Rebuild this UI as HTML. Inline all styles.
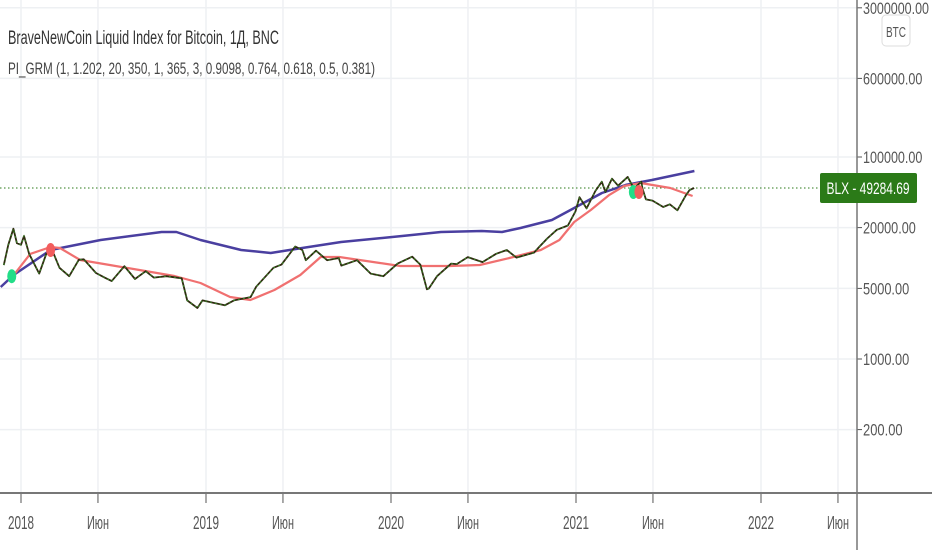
<!DOCTYPE html>
<html><head><meta charset="utf-8"><style>
html,body{margin:0;padding:0;background:#fff;width:932px;height:550px;overflow:hidden}
svg text{font-family:"Liberation Sans",sans-serif}
</style></head><body>
<svg id="chart" width="932" height="550" viewBox="0 0 932 550" xmlns="http://www.w3.org/2000/svg">
<g id="grid"></g>
<g id="series"></g>
<g id="axes"></g>
<text x="8" y="44" font-size="19" fill="#333" textLength="271" lengthAdjust="spacingAndGlyphs">BraveNewCoin Liquid Index for Bitcoin, 1Д, BNC</text>
<text x="8" y="74" font-size="17" fill="#444" textLength="367" lengthAdjust="spacingAndGlyphs">PI_GRM (1, 1.202, 20, 350, 1, 365, 3, 0.9098, 0.764, 0.618, 0.5, 0.381)</text>
<rect x="882" y="15" width="28" height="31" rx="4" fill="#fff" stroke="#ddd"/>
<text x="896" y="37" font-size="15" fill="#555" text-anchor="middle" textLength="20" lengthAdjust="spacingAndGlyphs">BTC</text>
</svg>
<script>
const yTicks=[3000000,600000,100000,20000,5000,1000,200];
const xTickYears=[2018,2018.416,2019,2019.416,2020,2020.416,2021,2021.416,2022,2022.416];
const xTickLabels=["2018","Июн","2019","Июн","2020","Июн","2021","Июн","2022","Июн"];
const priceDates=["2017-11-28","2017-12-07","2017-12-17","2017-12-24","2018-01-01","2018-01-07","2018-01-17","2018-02-06","2018-02-20","2018-03-05","2018-03-18","2018-04-06","2018-04-25","2018-05-05","2018-05-29","2018-06-15","2018-06-29","2018-07-24","2018-08-14","2018-09-04","2018-09-20","2018-10-15","2018-11-14","2018-11-25","2018-12-15","2018-12-25","2019-01-15","2019-02-07","2019-02-25","2019-03-30","2019-04-10","2019-05-14","2019-05-30","2019-06-26","2019-07-10","2019-07-17","2019-08-06","2019-08-28","2019-09-20","2019-09-25","2019-10-26","2019-11-22","2019-12-17","2020-01-14","2020-02-12","2020-02-28","2020-03-12","2020-03-16","2020-04-01","2020-04-29","2020-05-10","2020-06-01","2020-06-30","2020-07-27","2020-08-17","2020-09-05","2020-10-10","2020-10-21","2020-11-05","2020-11-24","2020-12-16","2020-12-31","2021-01-08","2021-01-22","2021-02-08","2021-02-21","2021-02-28","2021-03-13","2021-03-25","2021-04-13","2021-04-25","2021-05-10","2021-05-12","2021-05-19","2021-06-01","2021-06-22","2021-07-05","2021-07-20","2021-08-06","2021-08-13","2021-08-22"];
const priceValues=[8500,13500,19500,14000,13500,16500,11000,7000,11000,11500,8000,6600,9600,9700,7100,6400,5900,8300,6200,7400,6400,6600,6300,3800,3200,3800,3600,3400,3800,4100,5200,8000,8600,13000,12000,9500,11800,9500,10000,8400,9500,7000,6600,8800,10300,8600,4900,5000,6600,8800,8700,10200,9100,11000,12000,10100,11300,13000,15600,19000,21000,29000,40000,31000,46000,57000,45000,61000,52000,63500,49000,57000,49000,38000,37000,32000,34000,29700,42000,47000,49284];
const blueYears=[2017.89,2017.96,2018.16,2018.43,2018.76,2018.84,2018.97,2019.19,2019.35,2019.52,2019.73,2020.06,2020.27,2020.49,2020.60,2020.70,2020.87,2020.97,2021.14,2021.27,2021.41,2021.64];
const blueValues=[5160,6790,12000,15060,18070,18070,15060,12000,11220,12570,14390,16520,18070,18500,18070,19800,23800,29900,44000,52900,59200,72600];
const redYears=[2017.94,2018.05,2018.16,2018.21,2018.32,2018.48,2018.64,2018.83,2018.97,2019.13,2019.24,2019.37,2019.51,2019.62,2019.72,2019.94,2020.05,2020.21,2020.32,2020.48,2020.64,2020.81,2020.91,2020.99,2021.08,2021.18,2021.26,2021.35,2021.51,2021.63];
const redValues=[6050,10970,12860,12570,9550,8530,7600,6640,5650,4110,3840,4820,6790,10230,10230,8920,8330,8330,8330,8530,10000,12000,15060,22700,29900,42100,51600,55300,49300,41100];
const signalYears=[2017.95,2018.16,2021.31,2021.34];
const signalValues=[6600,12000,45000,45000];
const signalTypes=["buy","sell","buy","sell"];
const lastPrice=49284.69;

const NS="http://www.w3.org/2000/svg";
function xs(yr){return 21+(yr-2018)*185;}
function ys(v){return 157-101*(Math.log10(v)-5);}
function dy(s){const d=new Date(s+"T00:00:00Z");const y=d.getUTCFullYear();const s0=Date.UTC(y,0,1),s1=Date.UTC(y+1,0,1);return y+(d-s0)/(s1-s0);}
function mk(tag,attrs,parent){const e=document.createElementNS(NS,tag);for(const k in attrs)e.setAttribute(k,attrs[k]);parent.appendChild(e);return e;}
const grid=document.getElementById('grid'),ser=document.getElementById('series'),ax=document.getElementById('axes');
yTicks.forEach(v=>{
  const l=mk('line',{x1:0,x2:857,y1:ys(v),y2:ys(v),stroke:'#eef0f3','stroke-width':1.5},grid);
  
  
  const t=mk('line',{x1:857,x2:862,y1:ys(v),y2:ys(v),stroke:'#555'},ax);
  
  
  const s=v.toFixed(2);
  const tx=mk('text',{x:863,y:ys(v)+6,'font-size':17,fill:'#555',textLength:(s.length*6.6).toFixed(1),lengthAdjust:'spacingAndGlyphs'},ax);
  tx.textContent=s;
  
  
});
xTickYears.forEach((yr,i)=>{
  const x=xs(yr);
  const l=mk('line',{x1:x,x2:x,y1:0,y2:493,stroke:'#eef0f3','stroke-width':1.5},grid);
  
  
  const t=mk('line',{x1:x,x2:x,y1:493,y2:503,stroke:'#555'},ax);
  
  
  const tx=mk('text',{x:x,y:529,'font-size':18,fill:'#555','text-anchor':'middle',textLength:xTickLabels[i].length>3?26:22,lengthAdjust:'spacingAndGlyphs'},ax);
  tx.textContent=xTickLabels[i];
  
  
});
const xa=mk('line',{x1:0,x2:932,y1:493,y2:493,stroke:'#777','stroke-width':2},ax);


const ya=mk('line',{x1:857,x2:857,y1:0,y2:550,stroke:'#777','stroke-width':1.5},ax);



function pts(xa,va){return xa.map((x,i)=>xs(x).toFixed(1)+','+ys(va[i]).toFixed(1)).join(' ');}
const pl=mk('line',{x1:0,x2:820,y1:ys(lastPrice),y2:ys(lastPrice),stroke:'#2b7a18','stroke-dasharray':'1.5 2.5','stroke-width':1},ser);


const blue=mk('polyline',{points:pts(blueYears,blueValues),fill:'none',stroke:'#4a3fa0','stroke-width':2.5,'stroke-linejoin':'round'},ser);


const red=mk('polyline',{points:pts(redYears,redValues),fill:'none',stroke:'#f07070','stroke-width':2.2,'stroke-linejoin':'round'},ser);


const py=priceDates.map(dy);
const price=mk('polyline',{points:pts(py,priceValues),fill:'none',stroke:'#2f2a10','stroke-width':1.8,'stroke-linejoin':'round'},ser);


const priceHi=mk('polyline',{points:pts(py,priceValues),fill:'none',stroke:'#3a8a2a','stroke-width':1,'stroke-dasharray':'2 3'},ser);


signalYears.forEach((yr,i)=>{
  const c=mk('ellipse',{cx:xs(yr),cy:ys(signalValues[i]),rx:4.5,ry:7,fill:signalTypes[i]==='buy'?'#22dd88':'#f25d5d'},ser);
  
  
});
const lb=mk('rect',{x:820,y:ys(lastPrice)-15,width:97,height:30,rx:2,fill:'#2b7a18'},ax);


const lt=mk('text',{x:868,y:ys(lastPrice)+6,'font-size':17,fill:'#fff','text-anchor':'middle',textLength:83,lengthAdjust:'spacingAndGlyphs'},ax);
lt.textContent='BLX - '+lastPrice.toFixed(2);


</script>
</body></html>
